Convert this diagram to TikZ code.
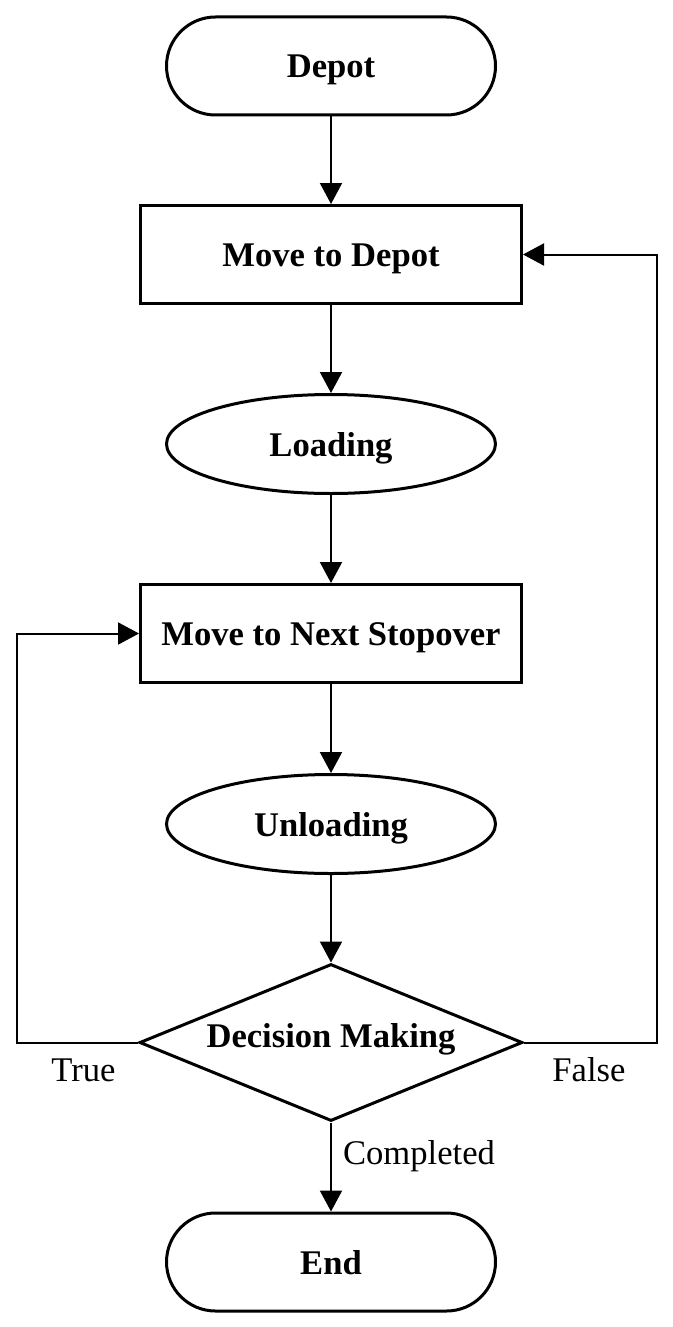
\documentclass[tikz,border=0pt]{standalone}
\usepackage{fontspec}
\setmainfont{Liberation Serif}
\usetikzlibrary{shapes.geometric}
\usetikzlibrary{arrows.meta}

\begin{document}
\begin{tikzpicture}[x=0.5pt,y=-0.5pt,
  terminal/.style={draw,line width=1.5pt,rounded corners=24.5pt,minimum width=164.5pt,minimum height=49pt,inner sep=0pt,text height=12pt,text depth=0pt,font=\fontsize{17.3}{20}\selectfont\bfseries},
  process/.style={draw,line width=1.5pt,minimum width=190.5pt,minimum height=49pt,inner sep=0pt,text height=12pt,text depth=0pt,font=\fontsize{17.3}{20}\selectfont\bfseries},
  activity/.style={draw,ellipse,line width=1.5pt,minimum width=164.5pt,minimum height=49.5pt,inner sep=0pt,text height=12pt,text depth=0pt,font=\fontsize{17.3}{20}\selectfont\bfseries},
  decision/.style={draw,diamond,aspect=2.44,line width=1.5pt,minimum width=191.5pt,minimum height=78.5pt,inner sep=0pt,text height=4.5pt,text depth=0pt,font=\fontsize{17.3}{20}\selectfont\bfseries},
  lbl/.style={inner sep=0pt,anchor=base,font=\fontsize{17.3}{20}\selectfont},
  flow/.style={line width=1pt,-{Triangle[length=10.5pt,width=11pt]}}]
\useasboundingbox (0,0) rectangle (673,1327);
\node[terminal] (depot) at (331,66) {Depot};
\node[process] (movedepot) at (331,254.5) {Move to Depot};
\node[activity] (loading) at (331,444) {Loading};
\node[process] (movenext) at (331,633.5) {Move to Next Stopover};
\node[activity] (unloading) at (331,824) {Unloading};
\node[decision] (decide) at (331,1042.5) {Decision Making};
\node[terminal] (finish) at (331,1262) {End};
\coordinate (trueturn) at (17,1042.5);
\coordinate (falseturn) at (657,1042.5);
\draw[flow] (depot) -- (movedepot);
\draw[flow] (movedepot) -- (loading);
\draw[flow] (loading) -- (movenext);
\draw[flow] (movenext) -- (unloading);
\draw[flow] (unloading) -- (decide);
\draw[flow] (decide) -- (finish);
\draw[flow] (decide.west) -- (trueturn) |- (movenext.west);
\draw[flow] (decide.east) -- (falseturn) |- (movedepot.east);
\node[lbl] (truelbl) at (83.5,1081) {True};
\node[lbl] (falselbl) at (589,1081) {False};
\node[lbl] (donelbl) at (419,1164) {Completed};
\end{tikzpicture}
\end{document}
